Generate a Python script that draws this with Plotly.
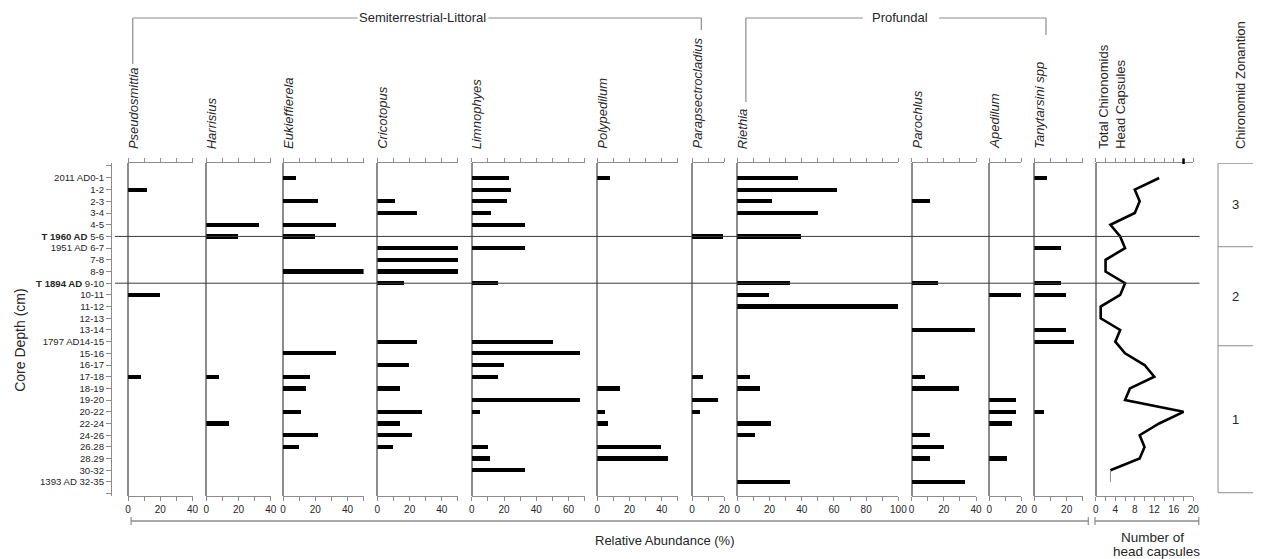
import plotly.graph_objects as go

W, H = 1262, 559
FONT = "Liberation Sans, Arial, sans-serif"
GREY = "#8c8c8c"
TEXT = "#262626"

# ---- data -------------------------------------------------------------
depths = ["2011 AD0-1", "1-2", "2-3", "3-4", "4-5", "<b>T 1960 AD</b> 5-6",
          "1951 AD 6-7", "7-8", "8-9", "<b>T 1894 AD</b> 9-10", "10-11", "11-12",
          "12-13", "13-14", "1797 AD14-15", "15-16", "16-17", "17-18", "18-19",
          "19-20", "20-22", "22-24", "24-26", "26.28", "28.29", "30-32",
          "1393 AD 32-35"]

# relative abundance (%) per sample, top to bottom
pseudosmittia = [0, 12, 0, 0, 0, 0, 0, 0, 0, 0, 20, 0, 0, 0, 0, 0, 0, 8, 0, 0, 0, 0, 0, 0, 0, 0, 0]
harrisius = [0, 0, 0, 0, 33, 20, 0, 0, 0, 0, 0, 0, 0, 0, 0, 0, 0, 8, 0, 0, 0, 14, 0, 0, 0, 0, 0]
eukieffierela = [8, 0, 22, 0, 33, 20, 0, 0, 50, 0, 0, 0, 0, 0, 0, 33, 0, 17, 14, 0, 11, 0, 22, 10, 0, 0, 0]
cricotopus = [0, 0, 11, 25, 0, 0, 50, 50, 50, 17, 0, 0, 0, 0, 25, 0, 20, 0, 14, 0, 28, 14, 22, 10, 0, 0, 0]
limnophyes = [23, 24, 22, 12, 33, 0, 33, 0, 0, 16, 0, 0, 0, 0, 50, 67, 20, 16, 0, 67, 5, 0, 0, 10, 11, 33, 0]
polypedilum = [8, 0, 0, 0, 0, 0, 0, 0, 0, 0, 0, 0, 0, 0, 0, 0, 0, 0, 14, 0, 5, 7, 0, 40, 44, 0, 0]
parapsectrocladius = [0, 0, 0, 0, 0, 19, 0, 0, 0, 0, 0, 0, 0, 0, 0, 0, 0, 7, 0, 16, 5, 0, 0, 0, 0, 0, 0]
riethia = [38, 62, 22, 50, 0, 40, 0, 0, 0, 33, 20, 100, 0, 0, 0, 0, 0, 8, 14, 0, 0, 21, 11, 0, 0, 0, 33]
parochlus = [0, 0, 11, 0, 0, 0, 0, 0, 0, 16, 0, 0, 0, 39, 0, 0, 0, 8, 29, 0, 0, 0, 11, 20, 11, 0, 33]
apedilum = [0, 0, 0, 0, 0, 0, 0, 0, 0, 0, 20, 0, 0, 0, 0, 0, 0, 0, 0, 17, 17, 14, 0, 0, 11, 0, 0]
tanytarsini = [8, 0, 0, 0, 0, 0, 17, 0, 0, 17, 20, 0, 0, 20, 25, 0, 0, 0, 0, 0, 6, 0, 0, 0, 0, 0, 0]

# total chironomid head capsules per sample
head_capsules = [13, 8, 9, 8, 3, 5, 6, 2, 2, 6, 5, 1, 1, 5, 4, 6, 10, 12, 7, 6, 18, 13, 9, 10, 9, 3, 3]

taxa = ["Pseudosmittia", "Harrisius", "Eukieffierela", "Cricotopus", "Limnophyes",
        "Polypedilum", "Parapsectrocladius", "Riethia", "Parochlus", "Apedilum",
        "Tanytarsini spp"]
series = [pseudosmittia, harrisius, eukieffierela, cricotopus, limnophyes,
          polypedilum, parapsectrocladius, riethia, parochlus, apedilum, tanytarsini]
axis_max = [40, 40, 50, 50, 70, 50, 20, 100, 40, 20, 30]

zones = ["3", "2", "1"]
zone_edges = [-1.26, 5.88, 14.35, 26.92]
event_rows = [5, 9]

# ---- layout helpers ----------------------------------------------------
def px(x):
    return x / W


def py(y):
    return 1 - y / H


PX_PER_PCT = 1.627
panel_left = [126.3, 205.3, 282.7, 378.0, 473.3, 600.0, 695.7, 741.3, 917.3, 995.7, 1041.3]
HC_LEFT, HC_RIGHT = 1103.3, 1201.7
Y_TOP, Y_BOT = 163, 496
rows = list(range(len(depths)))

fig = go.Figure()
layout_axes = {}


def label(x, y, text, size=13, angle=0, xanchor="center", yanchor="middle",
          align="center", xref="paper", yref="paper"):
    fig.add_annotation(x=x, y=y, xref=xref, yref=yref, text=text, textangle=angle,
                       showarrow=False, xanchor=xanchor, yanchor=yanchor,
                       align=align, font=dict(family=FONT, size=size, color=TEXT))


def x_axis(domain, rmax, tickvals, ticktext):
    return dict(domain=domain, range=[0, rmax], anchor="y", showline=True,
                linecolor=GREY, linewidth=1, mirror="ticks", ticks="outside",
                ticklen=4, tickcolor=GREY, tickwidth=1, tickmode="array",
                tickvals=tickvals, ticktext=ticktext,
                tickfont=dict(family=FONT, size=10, color=TEXT),
                showgrid=False, zeroline=True, zerolinecolor=GREY,
                zerolinewidth=1.5, fixedrange=True)


for i, (name, vals, rmax, left) in enumerate(zip(taxa, series, axis_max, panel_left)):
    ax_id = "x" if i == 0 else f"x{i + 1}"
    key = "xaxis" if i == 0 else f"xaxis{i + 1}"
    right = left + rmax * PX_PER_PCT
    tv = list(range(0, rmax + 1, 10))
    tt = [str(v) if v % 20 == 0 else "" for v in tv]
    layout_axes[key] = x_axis([px(left), px(right)], rmax, tv, tt)
    xs = [v for v in vals if v > 0]
    ys = [r for r, v in zip(rows, vals) if v > 0]
    fig.add_trace(go.Bar(x=xs, y=ys, orientation="h", width=0.36,
                         marker=dict(color="black", line=dict(width=0)),
                         xaxis=ax_id, yaxis="y", showlegend=False,
                         hoverinfo="skip"))
    label(px(left + 5), py(151), f"<i>{name}</i>", angle=-90, yanchor="bottom")

# head capsule panel
hc_id = f"x{len(taxa) + 1}"
hc_key = f"xaxis{len(taxa) + 1}"
tv = list(range(0, 21, 2))
tt = [str(v) if v % 4 == 0 else "" for v in tv]
layout_axes[hc_key] = x_axis([px(HC_LEFT), px(HC_RIGHT)], 20, tv, tt)
fig.add_trace(go.Scatter(x=head_capsules[:-1], y=rows[:-1], mode="lines",
                         line=dict(color="black", width=2.6),
                         xaxis=hc_id, yaxis="y", showlegend=False, hoverinfo="skip"))
fig.add_trace(go.Scatter(x=head_capsules[-2:], y=rows[-2:], mode="lines",
                         line=dict(color=GREY, width=1),
                         xaxis=hc_id, yaxis="y", showlegend=False, hoverinfo="skip"))
label(px(1119), py(151), "Total Chironomids<br>Head Capsules", angle=-90,
      yanchor="bottom", align="left")
# marker on the head-capsule top axis
fig.add_shape(type="line", xref=hc_id, yref="paper", x0=18, x1=18,
              y0=py(158.5), y1=py(164), line=dict(color="black", width=2.5))

# shared depth axis, with end ticks closing the column
y_tickvals = [-1.1] + rows + [26.95]
y_ticktext = [""] + depths + [""]
layout_axes["yaxis"] = dict(domain=[py(Y_BOT), py(Y_TOP)], range=[27.2, -1.28],
                            anchor="free", position=px(109), showline=True,
                            linecolor=GREY, linewidth=1, ticks="outside", ticklen=5,
                            tickcolor=GREY, tickmode="array", tickvals=y_tickvals,
                            ticktext=y_ticktext, showgrid=False, zeroline=False,
                            tickfont=dict(family=FONT, size=9.6, color=TEXT),
                            fixedrange=True)

# dated horizons
for r in event_rows:
    fig.add_shape(type="line", xref="paper", yref="y", x0=px(113), x1=px(1208),
                  y0=r, y1=r, line=dict(color="#3a3a3a", width=1))

# zonation column
ZX0, ZX1 = 1226.7, 1262
fig.add_shape(type="line", xref="paper", yref="y", x0=px(ZX0), x1=px(ZX0),
              y0=zone_edges[0], y1=zone_edges[-1], line=dict(color=GREY, width=1))
for e in zone_edges:
    fig.add_shape(type="line", xref="paper", yref="y", x0=px(ZX0), x1=px(ZX1),
                  y0=e, y1=e, line=dict(color=GREY, width=1))
for z, a, b in zip(zones, zone_edges[:-1], zone_edges[1:]):
    label(px(1244), (a + b) / 2, z, yref="y")
label(px(1249), py(151), "Chironomid Zonantion", angle=-90, yanchor="bottom")

# y-axis title
label(px(17), py(340), "Core Depth (cm)", size=14, angle=-90)


def hline(x0, x1, y, color=GREY, w=1.2):
    fig.add_shape(type="line", xref="paper", yref="paper", x0=px(x0), x1=px(x1),
                  y0=py(y), y1=py(y), line=dict(color=color, width=w))


def vline(x, y0, y1, color=GREY, w=1.2):
    fig.add_shape(type="line", xref="paper", yref="paper", x0=px(x), x1=px(x),
                  y0=py(y0), y1=py(y1), line=dict(color=color, width=w))


# bottom brackets
for a, b in [(129.3, 1095.7), (1102.5, 1207.3)]:
    hline(a, b, 521, w=1.5)
    vline(a, 517, 525)
    vline(b, 517, 525)
label(px(668), py(540), "Relative Abundance (%)")
label(px(1161), py(537), "Number of", size=13.5)
label(px(1165), py(551), "head capsules", size=13.5)

# ecological group brackets
hline(131, 358, 18)
hline(490, 705, 18)
vline(131, 18, 64)
vline(705, 18, 30)
label(px(424), py(18), "Semiterrestrial-Littoral")
hline(750, 868, 18)
hline(945, 1053, 18)
vline(750, 18, 102)
vline(1053, 18, 35)
label(px(906), py(18), "Profundal")

fig.update_layout(width=W, height=H, autosize=False,
                  margin=dict(l=0, r=0, t=0, b=0),
                  paper_bgcolor="white", plot_bgcolor="white",
                  bargap=0, showlegend=False, **layout_axes)

fig.write_html("out.html")
